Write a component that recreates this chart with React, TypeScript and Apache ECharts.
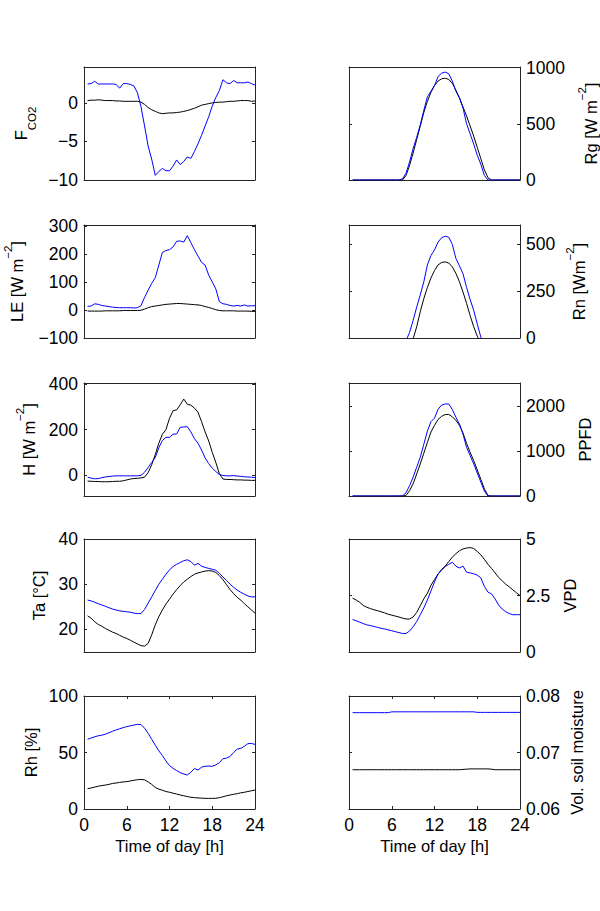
import React, { useEffect, useRef } from 'react';
import * as echarts from 'echarts';

const HOURS = [0.5, 1, 1.5, 2, 2.5, 3, 3.5, 4, 4.5, 5, 5.5, 6, 6.5, 7, 7.5, 8, 8.5, 9, 9.5, 10, 10.5, 11, 11.5, 12,
  12.5, 13, 13.5, 14, 14.5, 15, 15.5, 16, 16.5, 17, 17.5, 18, 18.5, 19, 19.5, 20, 20.5, 21, 21.5, 22, 22.5, 23, 23.5, 24];
const X_TICKS = [0, 6, 12, 18, 24];

const FCO2_BLUE = [2.45, 2.5, 2.8, 2.45, 2.45, 2.45, 2.45, 2.45, 2.4, 1.9, 2.5, 2.5, 2.4, 2.2, 1.3, -0.5,
  -3.0, -5.6, -7.3, -9.4, -8.9, -8.5, -8.8, -8.8, -8.2, -7.4, -8.0, -7.6, -7.0, -7.2, -6.3, -5.3,
  -4.2, -3.0, -1.8, -0.4, 0.7, 1.6, 3.0, 2.6, 2.5, 2.9, 2.6, 2.6, 2.6, 2.7, 2.5, 2.3];
const FCO2_BLACK = [0.3, 0.35, 0.35, 0.4, 0.35, 0.3, 0.3, 0.3, 0.25, 0.25, 0.2, 0.2, 0.2, 0.2, 0.2, 0.1,
  -0.2, -0.6, -0.9, -1.1, -1.3, -1.4, -1.35, -1.3, -1.3, -1.25, -1.2, -1.1, -1.0, -0.85, -0.7, -0.5,
  -0.3, -0.2, -0.1, 0, 0.05, 0.1, 0.1, 0.15, 0.2, 0.2, 0.25, 0.3, 0.3, 0.3, 0.2, 0.25];

const LE_BLUE = [13, 14, 22, 20, 16, 14, 12, 10, 9, 8, 8, 8, 8, 7, 8, 15,
  45, 70, 95, 115, 160, 205, 212, 215, 225, 245, 246, 242, 265, 240, 215, 192,
  170, 160, 124, 100, 75, 30, 22, 20, 16, 14, 16, 14, 18, 14, 15, 15];
const LE_BLACK = [-4, -4, -4, -4, -4, -3, -3, -3, -3, -3, -2, -2, -2, -2, -2, -1,
  3, 8, 12, 14, 16, 18, 20, 21, 22, 23, 23, 22, 21, 20, 19, 18,
  16, 12, 9, 5, 1, -2, -3, -3, -3, -3, -4, -4, -4, -4, -5, -5];

const H_BLUE = [-10, -14, -17, -16, -12, -9, -7, -5, -4, -4, -4, -4, -4, -4, -4, -2,
  12, 33, 55, 77, 120, 152, 166, 166, 180, 181, 210, 212, 213, 190, 160, 140,
  110, 75, 50, 30, 15, 2, -2, -4, -4, -3, -5, -6, -8, -9, -10, -12];
const H_BLACK = [-27, -28, -29, -29, -30, -30, -30, -29, -28, -28, -26, -22, -18, -16, -15, -13,
  -10, 10, 45, 90, 140, 180, 200, 250, 284, 287, 310, 335, 312, 308, 295, 277,
  235, 190, 150, 100, 55, 5, -18, -20, -20, -21, -22, -22, -23, -23, -24, -24];

const TA_BLUE = [26.5, 26.3, 26.0, 25.7, 25.4, 25.1, 24.8, 24.5, 24.3, 24.1, 24.0, 23.9, 23.8, 23.6, 23.5, 23.5,
  24.4, 25.8, 27.2, 28.6, 30.0, 31.1, 32.2, 33.2, 33.9, 34.4, 34.8, 35.2, 35.4, 35.0, 34.2, 34.6,
  34.0, 33.7, 33.5, 33.3, 33.1, 32.4, 31.6, 30.8, 30.0, 29.3, 28.7, 28.2, 27.8, 27.4, 27.2, 27.2];
const TA_BLACK = [23.0, 22.5, 21.7, 21.1, 20.7, 20.2, 19.8, 19.4, 19.1, 18.7, 18.3, 18.0, 17.6, 17.2, 16.8, 16.4,
  16.3, 16.9, 18.8, 21.0, 22.8, 24.3, 25.6, 26.7, 27.8, 28.8, 29.7, 30.5, 31.1, 31.7, 32.2, 32.5,
  32.7, 32.9, 33.0, 32.9, 32.6, 31.9, 31.0, 29.9, 28.8, 27.9, 27.1, 26.5, 25.7, 25.0, 24.3, 23.6];

const RH_BLUE = [61.7, 62.8, 63.9, 64.8, 65.3, 66.2, 67.5, 68.8, 70.0, 71.0, 72.0, 72.9, 73.6, 74.3, 74.9, 74.7,
  71.5, 67.0, 61.7, 56.5, 51.5, 47.3, 42.5, 38.4, 36.0, 34.0, 32.2, 31.0, 30.1, 32.5, 35.8, 34.5,
  37.0, 37.8, 38.0, 37.8, 39.0, 41.0, 44.5, 45.0, 46.5, 50.0, 53.0, 53.6, 55.5, 57.8, 58.0, 57.2];
const RH_BLACK = [18.0, 18.6, 19.4, 20.2, 20.7, 21.2, 21.8, 22.6, 23.0, 23.5, 24.0, 24.2, 24.8, 25.4, 25.9, 26.2,
  25.8, 24.0, 21.8, 19.0, 17.6, 16.6, 15.5, 14.8, 14.0, 13.2, 12.4, 11.7, 11.0, 10.4, 10.0, 9.8,
  9.6, 9.4, 9.4, 9.4, 9.5, 10.0, 10.8, 11.7, 12.4, 13.0, 13.6, 14.3, 14.8, 15.5, 16.1, 16.8];

const RG_BLUE = [0, 0, 0, 0, 0, 0, 0, 0, 0, 0, 0, 0, 0, 0, 10, 60,
  160, 280, 380, 490, 620, 740, 790, 840, 920, 950, 960, 945, 880, 790, 730, 640,
  500, 410, 320, 220, 140, 40, 0, 0, 0, 0, 0, 0, 0, 0, 0, 0];
const RG_BLACK = [0, 0, 0, 0, 0, 0, 0, 0, 0, 0, 0, 0, 0, 0, 0, 40,
  130, 240, 360, 480, 600, 700, 780, 840, 880, 900, 905, 895, 860, 800, 730, 650,
  570, 480, 390, 290, 190, 90, 20, 0, 0, 0, 0, 0, 0, 0, 0, 0];

const RN_BLUE = [-40, -40, -40, -40, -40, -40, -40, -40, -40, -40, -40, -40, -40, -40, -40, -15,
  30, 94, 165, 230, 300, 390, 440, 470, 512, 535, 543, 538, 500, 425, 385, 343,
  270, 205, 148, 75, 5, -30, -40, -40, -40, -40, -40, -40, -40, -40, -40, -40];
const RN_BLACK = [-40, -40, -40, -40, -40, -40, -40, -40, -40, -40, -40, -40, -40, -40, -40, -40,
  -40, -5, 60, 140, 210, 270, 320, 360, 390, 403, 406, 400, 380, 345, 300, 245,
  185, 120, 60, 10, -25, -40, -40, -40, -40, -40, -40, -40, -40, -40, -40, -40];

const PPFD_BLUE = [0, 0, 0, 0, 0, 0, 0, 0, 0, 0, 0, 0, 0, 0, 5, 70,
  230, 419, 640, 860, 1150, 1440, 1650, 1730, 1926, 2020, 2045, 2045, 1920, 1750, 1600, 1375,
  1080, 900, 713, 510, 310, 110, 0, 0, 0, 0, 0, 0, 0, 0, 0, 0];
const PPFD_BLACK = [0, 0, 0, 0, 0, 0, 0, 0, 0, 0, 0, 0, 0, 0, 0, 10,
  120, 272, 490, 713, 950, 1190, 1420, 1570, 1700, 1770, 1810, 1810, 1760, 1680, 1570, 1400,
  1170, 970, 787, 580, 370, 160, 10, 0, 0, 0, 0, 0, 0, 0, 0, 0];

const VPD_BLUE = [1.44, 1.38, 1.32, 1.26, 1.2, 1.17, 1.13, 1.09, 1.05, 1.02, 0.98, 0.94, 0.9, 0.86, 0.82, 0.82,
  0.93, 1.12, 1.35, 1.65, 1.95, 2.3, 2.7, 3.1, 3.45, 3.62, 3.78, 3.88, 3.97, 3.8, 3.72, 3.8,
  3.53, 3.5, 3.46, 3.4, 3.28, 2.9, 2.65, 2.57, 2.35, 2.08, 1.9, 1.78, 1.7, 1.65, 1.65, 1.65];
const VPD_BLACK = [2.38, 2.3, 2.2, 2.06, 1.98, 1.92, 1.87, 1.83, 1.78, 1.73, 1.67, 1.63, 1.59, 1.55, 1.5, 1.46,
  1.46, 1.55, 1.75, 2.05, 2.35, 2.6, 2.95, 3.2, 3.45, 3.65, 3.8, 4.0, 4.2, 4.35, 4.48, 4.56,
  4.6, 4.62, 4.58, 4.45, 4.3, 4.1, 3.88, 3.7, 3.5, 3.3, 3.15, 3.0, 2.88, 2.75, 2.62, 2.5];

const SOIL_BLUE = [0.07705, 0.07705, 0.07705, 0.07705, 0.07705, 0.07705, 0.07705, 0.07705, 0.07705, 0.07705, 0.07705, 0.0772, 0.0772, 0.0772, 0.0772, 0.0772,
  0.0772, 0.0772, 0.0772, 0.0772, 0.0772, 0.0772, 0.0772, 0.0772, 0.0772, 0.0772, 0.0772, 0.0772, 0.0772, 0.0772, 0.0772, 0.0772,
  0.0772, 0.0772, 0.0772, 0.0771, 0.0771, 0.0771, 0.0771, 0.0771, 0.0771, 0.0771, 0.0771, 0.0771, 0.0771, 0.0771, 0.0771, 0.0771];
const SOIL_BLACK = [0.06695, 0.06695, 0.06695, 0.06695, 0.06695, 0.06695, 0.06695, 0.06695, 0.06695, 0.06695, 0.06695, 0.06695, 0.06695, 0.06695, 0.06695, 0.06695,
  0.06695, 0.06695, 0.06695, 0.06695, 0.06695, 0.06695, 0.06695, 0.06695, 0.06695, 0.06695, 0.06695, 0.06695, 0.06695, 0.06695, 0.06695, 0.067,
  0.06705, 0.0671, 0.0671, 0.0671, 0.0671, 0.0671, 0.0671, 0.06705, 0.06695, 0.06695, 0.06695, 0.06695, 0.06695, 0.06695, 0.06695, 0.06695];

const FCO2_TICKS = [-10, -5, 0];
const LE_TICKS = [-100, 0, 100, 200, 300];
const H_TICKS = [0, 200, 400];
const TA_TICKS = [20, 30, 40];
const RH_TICKS = [0, 50, 100];
const RG_TICKS = [0, 500, 1000];
const RN_TICKS = [0, 250, 500];
const PPFD_TICKS = [0, 1000, 2000];
const VPD_TICKS = [0, 2.5, 5];
const SOIL_TICKS = [0.06, 0.07, 0.08];

const FONT = '"Liberation Sans", Arial, Helvetica, sans-serif';
const AXIS_COLOR = '#262626';
const ROW_TOPS = [67, 225, 383, 539, 696];
const COL_LEFTS = [84, 349];
const PW = 171;
const PH = 113;

const PANELS = [
  { col: 0, row: 0, blue: FCO2_BLUE, black: FCO2_BLACK, min: -10, max: 4.65, ticks: FCO2_TICKS, name: '{nt|F}{sub|CO2}', gap: 46 },
  { col: 0, row: 1, blue: LE_BLUE, black: LE_BLACK, min: -100, max: 303, ticks: LE_TICKS, name: '{n|LE [W m}{sup|−2}{n|]}', gap: 59 },
  { col: 0, row: 2, blue: H_BLUE, black: H_BLACK, min: -93, max: 406, ticks: H_TICKS, name: '{n|H [W m}{sup|−2}{n|]}', gap: 47 },
  { col: 0, row: 3, blue: TA_BLUE, black: TA_BLACK, min: 15, max: 40, ticks: TA_TICKS, name: '{p|Ta [°C]}', gap: 36 },
  { col: 0, row: 4, blue: RH_BLUE, black: RH_BLACK, min: 0, max: 100, ticks: RH_TICKS, name: '{p|Rh [%]}', gap: 44 },
  { col: 1, row: 0, blue: RG_BLUE, black: RG_BLACK, min: 0, max: 1005, ticks: RG_TICKS, name: '{n|Rg [W m}{sup|−2}{n|]}', gap: 56 },
  { col: 1, row: 1, blue: RN_BLUE, black: RN_BLACK, min: 0, max: 603, ticks: RN_TICKS, name: '{n|Rn [Wm}{sup|−2}{n|]}', gap: 44 },
  { col: 1, row: 2, blue: PPFD_BLUE, black: PPFD_BLACK, min: 0, max: 2510, ticks: PPFD_TICKS, name: '{p|PPFD}', gap: 56 },
  { col: 1, row: 3, blue: VPD_BLUE, black: VPD_BLACK, min: 0, max: 5, ticks: VPD_TICKS, name: '{p|VPD}', gap: 41 },
  { col: 1, row: 4, blue: SOIL_BLUE, black: SOIL_BLACK, min: 0.06, max: 0.08, ticks: SOIL_TICKS, name: '{p|Vol. soil moisture}', gap: 48 },
];

const RICH: any = {
  p: { fontSize: 16.5, fontFamily: FONT, color: '#000', lineHeight: 18 },
  n: { fontSize: 16.5, fontFamily: FONT, color: '#000', lineHeight: 2, verticalAlign: 'bottom' },
  sup: { fontSize: 11.5, fontFamily: FONT, color: '#000', lineHeight: 23, verticalAlign: 'top' },
  nt: { fontSize: 16.5, fontFamily: FONT, color: '#000', lineHeight: 26, verticalAlign: 'top' },
  sub: { fontSize: 11.5, fontFamily: FONT, color: '#000', lineHeight: 2, verticalAlign: 'bottom' },
};

const fmt = (v: number) => String(v).replace('-', '−');

function buildOption() {
  const grid: any[] = [];
  const xAxis: any[] = [];
  const yAxis: any[] = [];
  const series: any[] = [];
  const lineStyle = { color: AXIS_COLOR, width: 1 };
  PANELS.forEach((p, i) => {
    grid.push({ left: COL_LEFTS[p.col], top: ROW_TOPS[p.row], width: PW, height: PH, containLabel: false, outerBoundsMode: 'none' });
    const bottomRow = p.row === 4;
    xAxis.push({
      type: 'value', gridIndex: i, position: 'bottom', min: 0, max: 24,
      axisLine: { show: true, onZero: false, lineStyle },
      axisTick: { show: bottomRow, inside: true, length: 3, customValues: X_TICKS, lineStyle },
      axisLabel: { show: bottomRow, customValues: X_TICKS, margin: 7, fontSize: 17.5, color: '#000', fontFamily: FONT, formatter: fmt },
      splitLine: { show: false },
      name: bottomRow ? 'Time of day [h]' : '', nameLocation: 'middle', nameGap: 28, nameMoveOverlap: false,
      nameTextStyle: { fontSize: 16.5, fontFamily: FONT, color: '#000' },
    });
    xAxis.push({
      type: 'value', gridIndex: i, position: 'top', min: 0, max: 24,
      axisLine: { show: true, onZero: false, lineStyle },
      axisTick: { show: bottomRow, inside: true, length: 3, customValues: X_TICKS, lineStyle },
      axisLabel: { show: false }, splitLine: { show: false },
    });
    const primaryPos = p.col === 0 ? 'left' : 'right';
    const mirrorPos = p.col === 0 ? 'right' : 'left';
    yAxis.push({
      type: 'value', gridIndex: i, position: primaryPos, min: p.min, max: p.max,
      axisLine: { show: true, onZero: false, lineStyle },
      axisTick: { show: true, inside: true, length: 3, customValues: p.ticks, lineStyle },
      axisLabel: { show: true, customValues: p.ticks, margin: 6, fontSize: 17.5, color: '#000', fontFamily: FONT, formatter: fmt },
      splitLine: { show: false },
      name: p.name, nameLocation: 'middle', nameRotate: 90, nameGap: p.gap, nameMoveOverlap: false,
      nameTextStyle: { fontSize: 16.5, fontFamily: FONT, color: '#000', rich: RICH },
    });
    yAxis.push({
      type: 'value', gridIndex: i, position: mirrorPos, min: p.min, max: p.max,
      axisLine: { show: true, onZero: false, lineStyle },
      axisTick: { show: true, inside: true, length: 3, customValues: p.ticks, lineStyle },
      axisLabel: { show: false }, splitLine: { show: false },
    });
    series.push({
      type: 'line', xAxisIndex: 2 * i, yAxisIndex: 2 * i, showSymbol: false, symbol: 'none', clip: true,
      lineStyle: { color: '#000000', width: 1 }, data: HOURS.map((h, k) => [h, p.black[k]]),
    });
    series.push({
      type: 'line', xAxisIndex: 2 * i, yAxisIndex: 2 * i, showSymbol: false, symbol: 'none', clip: true,
      lineStyle: { color: '#0000ff', width: 1 }, data: HOURS.map((h, k) => [h, p.blue[k]]),
    });
  });
  return { animation: false, backgroundColor: '#ffffff', grid, xAxis, yAxis, series };
}

export default function App() {
  const ref = useRef<HTMLDivElement>(null);
  useEffect(() => {
    if (!ref.current) return;
    const chart = echarts.init(ref.current, null, { renderer: 'svg' });
    chart.setOption(buildOption() as any);
    return () => chart.dispose();
  }, []);
  return <div ref={ref} style={{ position: 'fixed', left: 0, top: 0, width: 600, height: 911, background: '#fff' }} />;
}
